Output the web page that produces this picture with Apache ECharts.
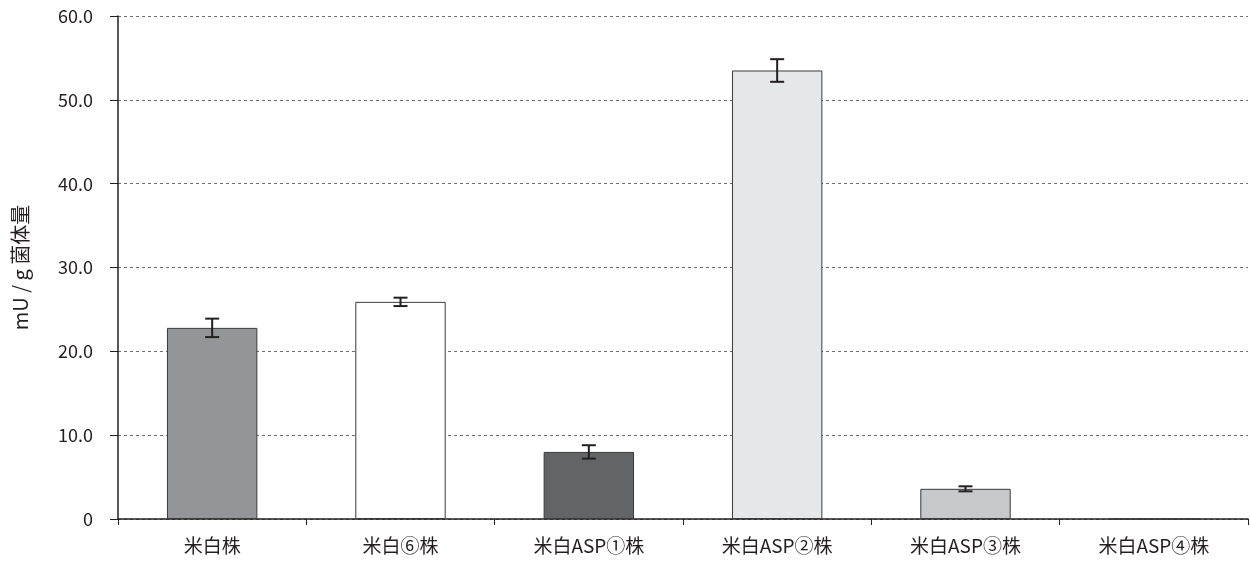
<!DOCTYPE html>
<html>
<head>
<meta charset="utf-8">
<script src="https://cdn.jsdelivr.net/npm/echarts@6/dist/echarts.min.js"></script>
<style>
  html, body { margin: 0; padding: 0; background: #fff; }
  #chart { width: 1250px; height: 563px; }
</style>
</head>
<body>
<div id="chart"></div>
<script>
// Strains measured
const categories = ['米白株', '米白⑥株', '米白ASP①株', '米白ASP②株', '米白ASP③株', '米白ASP④株'];
// Activity (mU/g cell mass) and standard deviation
const values = [22.8, 25.9, 8.0, 53.5, 3.6, 0];
const errors = [1.1, 0.5, 0.8, 1.35, 0.3, 0];
const barColors = ['#939598', '#ffffff', '#636466', '#e6e7e8', '#c7c8ca', '#ffffff'];
const yTicks = [0, 10, 20, 30, 40, 50, 60];

const FONT = '"Noto Sans CJK JP", "Noto Sans", sans-serif';
const INK = '#231f20';

const chart = echarts.init(document.getElementById('chart'), null, { renderer: 'canvas' });

chart.setOption({
  animation: false,
  backgroundColor: '#ffffff',
  grid: { left: 118, right: 2, top: 16, bottom: 44 },
  xAxis: {
    type: 'category',
    data: categories,
    axisLine: { lineStyle: { color: INK, width: 1.5 } },
    axisTick: { show: true, length: 6, lineStyle: { color: INK, width: 1 } },
    axisLabel: { color: INK, fontSize: 19, fontFamily: FONT, margin: 17 }
  },
  yAxis: {
    type: 'value',
    min: yTicks[0],
    max: yTicks[yTicks.length - 1],
    interval: 10,
    name: 'mU / g 菌体量',
    nameLocation: 'middle',
    nameRotate: 90,
    nameGap: 88,
    nameTextStyle: { color: INK, fontSize: 20, fontFamily: FONT },
    axisLine: { show: true, lineStyle: { color: INK, width: 1.5 } },
    axisTick: { show: true, inside: false, length: 8, lineStyle: { color: INK, width: 1 } },
    axisLabel: {
      color: INK, fontSize: 18, fontFamily: FONT, margin: 25,
      formatter: v => (v === 0 ? '0' : v.toFixed(1))
    },
    splitLine: { show: true, lineStyle: { color: '#6d6e71', type: [3, 3], width: 1 } }
  },
  series: [
    {
      type: 'bar',
      barWidth: '48%',
      data: values.map((v, i) => ({
        value: v,
        itemStyle: { color: barColors[i], borderColor: '#3a3a3c', borderWidth: 1 }
      })),
      z: 3
    },
    {
      type: 'custom',
      z: 5,
      data: values.map((v, i) => [i, v, errors[i]]),
      renderItem: function (params, api) {
        const x = api.value(0), v = api.value(1), e = api.value(2);
        if (!e) return null;
        const top = api.coord([x, v + e]);
        const bot = api.coord([x, v - e]);
        const half = 7;
        const style = { stroke: '#231f20', lineWidth: 2 };
        return {
          type: 'group',
          children: [
            { type: 'line', shape: { x1: top[0], y1: top[1], x2: bot[0], y2: bot[1] }, style },
            { type: 'line', shape: { x1: top[0] - half, y1: top[1], x2: top[0] + half, y2: top[1] }, style },
            { type: 'line', shape: { x1: bot[0] - half, y1: bot[1], x2: bot[0] + half, y2: bot[1] }, style }
          ]
        };
      }
    }
  ]
});
</script>
</body>
</html>
